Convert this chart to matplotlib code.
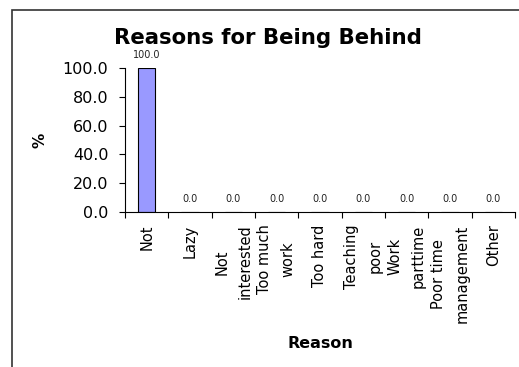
import numpy as np
import matplotlib
matplotlib.use('Agg')
import matplotlib.pyplot as plt
from matplotlib.patches import Rectangle

plt.rcParams['font.family'] = ['DejaVu Sans']

# Data
reasons = ['Not', 'Lazy', 'Not\ninterested', 'Too much\nwork', 'Too hard',
           'Teaching\npoor', 'Work\nparttime', 'Poor time\nmanagement', 'Other']
percent = [100.0, 0.0, 0.0, 0.0, 0.0, 0.0, 0.0, 0.0, 0.0]
y_ticks = [0, 20, 40, 60, 80, 100]

fig = plt.figure(figsize=(5.19, 3.67), dpi=100)

# outer chart frame (left and top edges visible)
fig.patches.append(Rectangle((12 / 519, -0.1), 1.2, (367 - 10) / 367 + 0.1,
                             transform=fig.transFigure, fill=False,
                             edgecolor='#333333', linewidth=1.2))

ax = fig.add_axes([125 / 519, 1 - 212 / 367, 390 / 519, 144 / 367])

x = np.arange(len(reasons))
ax.bar(x, percent, width=0.4, color='#9999FF', edgecolor='black', linewidth=0.8)

for xi, v in zip(x, percent):
    ax.annotate(f'{v:.1f}', (xi, v), xytext=(0, 8), textcoords='offset pixels',
                ha='center', va='bottom', fontsize=7, color='#222222')

ax.set_xlim(-0.5, len(reasons) - 0.5)
ax.set_ylim(0, 100)
ax.set_yticks(y_ticks)
ax.set_yticklabels([f'{t:.1f}' for t in y_ticks], fontsize=11.5)
ax.set_xticks(x)
ax.set_xticklabels(reasons, rotation=90, fontsize=10.5, va='top', ha='center',
                   multialignment='center', linespacing=1.7)
ax.set_xticks(np.arange(-0.5, len(reasons)), minor=True)
ax.tick_params(axis='x', which='major', length=0, pad=9)
ax.tick_params(axis='x', which='minor', length=4, width=0.8, direction='out')
ax.tick_params(axis='y', length=4, width=0.8, direction='out', pad=8)

for s in ['top', 'right']:
    ax.spines[s].set_visible(False)
for s in ['left', 'bottom']:
    ax.spines[s].set_linewidth(0.8)

fig.text(267.5 / 519, 1 - 38 / 367, 'Reasons for Being Behind', fontsize=15.3,
         fontweight='bold', ha='center', va='center')
ax.set_xlabel('Reason', fontsize=11.5, fontweight='bold')
ax.xaxis.set_label_coords(0.5, (212 - 343) / 144)
ax.xaxis.label.set_va('center')
ax.set_ylabel('%', fontsize=11, fontweight='bold')
ax.yaxis.set_label_coords((40 - 125) / 390, (212 - 140) / 144)
ax.yaxis.label.set_va('center')

fig.savefig('out.png', dpi=100)
